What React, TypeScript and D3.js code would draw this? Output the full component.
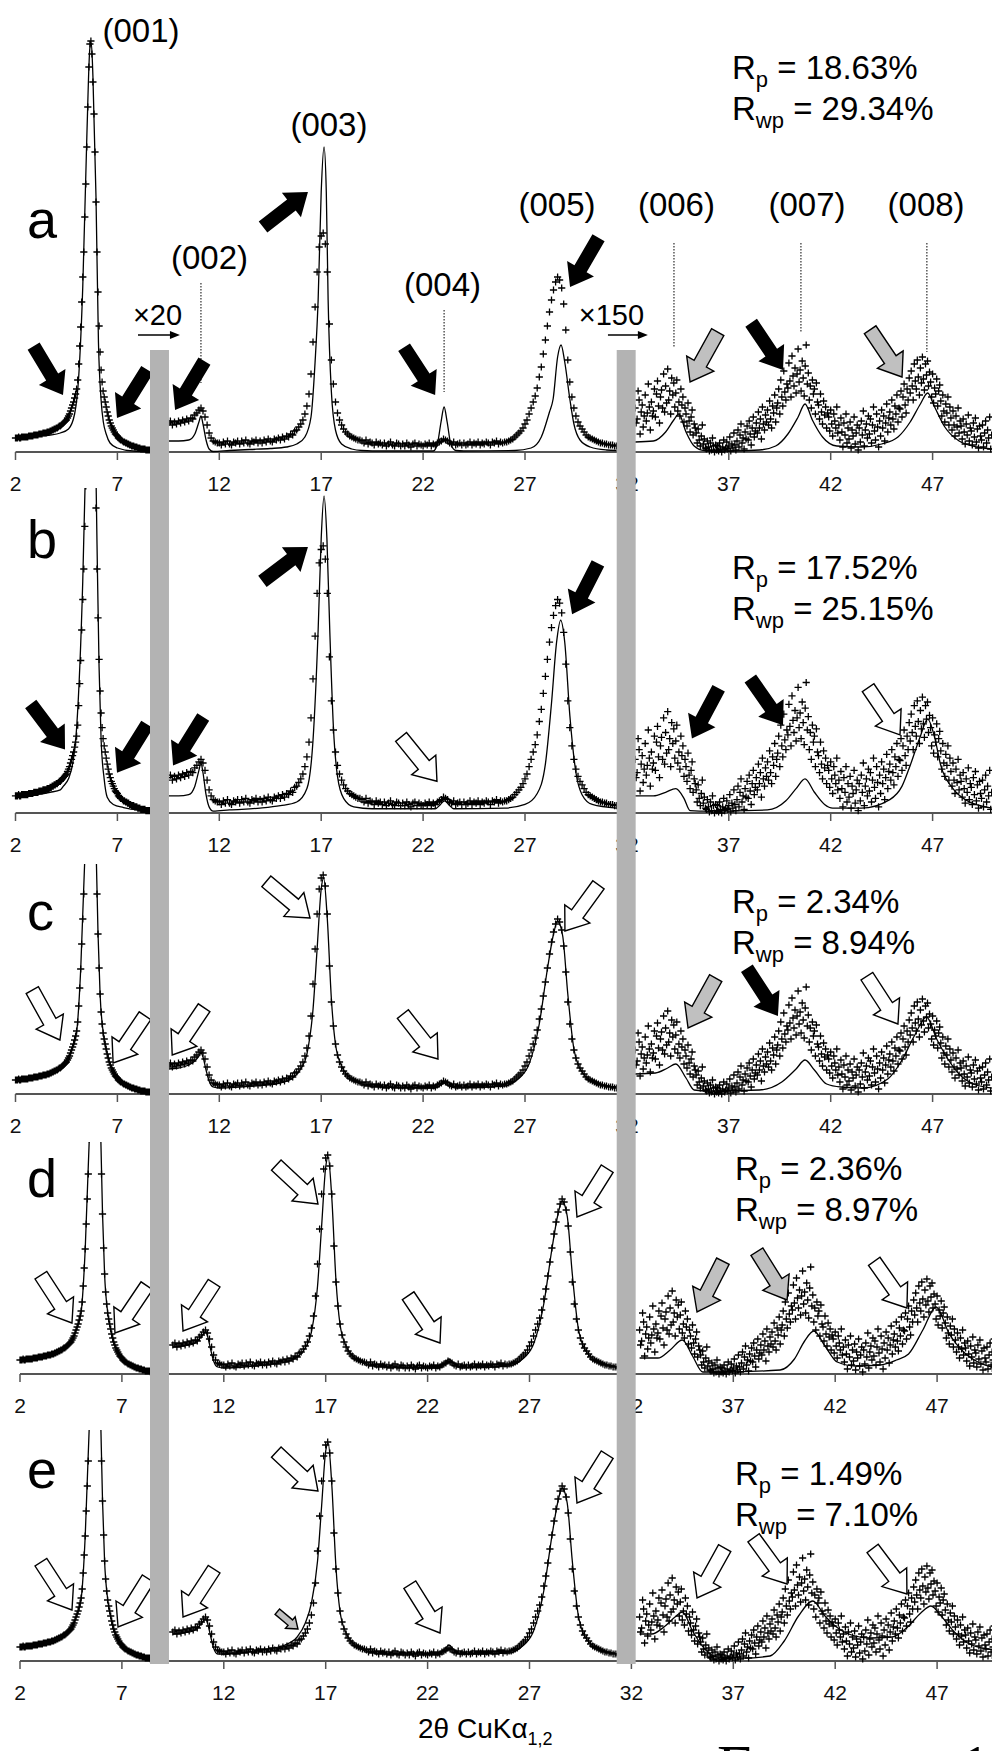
import React from "react";
import * as d3 from "d3";

const W = 992;
const H = 1751;
const PX_PER_DEG = 20.38;
const thetaMin = 2;
const thetaMax = 49.9;
const FONT = "'Liberation Sans', Arial, Helvetica, sans-serif";

const tickValues = [2, 7, 12, 17, 22, 27, 32, 37, 42, 47];

// observed pattern (same measurement in every panel), display counts
const obsLowStart = 2.0;
const obsLowStep = 0.05;
const obsLow = [
  14, 14, 14, 15, 14, 14, 15, 15, 15, 15,
  15, 15, 15, 16, 16, 16, 16, 16, 17, 17,
  17, 17, 17, 18, 18, 18, 18, 19, 19, 19,
  19, 20, 20, 20, 21, 21, 22, 22, 23, 23,
  24, 24, 25, 26, 26, 27, 28, 29, 30, 31,
  32, 34, 36, 38, 41, 44, 47, 50, 54, 58,
  63, 72, 88, 106, 125, 150, 175, 200, 235, 268,
  305, 345, 385, 408, 411, 398, 370, 338, 300, 250,
  200, 160, 126, 100, 82, 70, 61, 55, 50, 45,
  40, 36, 32, 29, 26, 24, 22, 20, 18, 17,
  16, 14, 13, 12, 12, 11, 10, 10, 9, 9,
  8, 8, 7, 7, 6, 6, 6, 5, 5, 5,
  4, 4, 4, 3, 3, 3, 3, 3, 2, 2,
  2, 2, 2,
];

const obsMidStart = 9.5;
const obsMidStep = 0.1;
const obsMid = [
  29, 31, 27, 30, 28,
  31, 29, 32, 30, 33, 31, 34, 33, 37, 39,
  42, 44, 41, 35, 27, 19, 14, 11, 10, 9,
  9, 7, 10, 8, 11, 8, 7, 10, 9, 11,
  8, 11, 9, 12, 9, 8, 11, 10, 12, 9,
  11, 9, 12, 10, 13, 11, 10, 13, 12, 14,
  12, 15, 13, 16, 15, 18, 17, 21, 22, 25,
  28, 32, 38, 46, 58, 78, 110, 145, 180, 205,
  216, 219, 208, 180, 128, 92, 68, 50, 39, 32,
  27, 23, 20, 18, 16, 15, 14, 13, 12, 12,
  11, 9, 12, 8, 10, 9, 7, 10, 8, 9,
  7, 9, 6, 8, 10, 7, 6, 9, 8, 6,
  8, 6, 9, 7, 5, 8, 9, 6, 8, 7,
  6, 8, 7, 9, 6, 8, 7, 9, 10, 11,
  13, 12, 11, 9, 8, 10, 7, 8, 9, 7,
  9, 7, 8, 10, 7, 9, 8, 10, 7, 9,
  8, 10, 9, 7, 10, 9, 11, 8, 10, 9,
  10, 10, 11, 12, 13, 15, 17, 19, 21, 24,
  28, 32, 38, 44, 50, 56, 64, 75, 85, 98,
  112, 126, 140, 152, 162, 170, 175, 172, 164, 148,
  122, 92, 70, 55, 44, 36, 30, 26, 23, 20,
  17, 15, 14, 13, 12, 11, 10, 9, 9, 8,
  8, 7, 7, 7, 6, 6,
];

const obsHighStart = 32.4;
const obsHighStep = 0.05;
const obsHigh = [
  44, 29, 33, 61, 52, 18, 40, 47, 25, 36,
  57, 31, 39, 68, 45, 22, 50, 36, 41, 63,
  35, 58, 71, 46, 29, 55, 62, 44, 78, 40,
  66, 49, 83, 52, 61, 38, 74, 57, 69, 45,
  59, 72, 41, 50, 36, 63, 47, 55, 30, 44,
  38, 26, 49, 31, 20, 35, 42, 17, 28, 24,
  19, 9, 23, 12, 6, 16, 27, 8, 13, 4,
  3, 11, 5, 1, 9, 2, 14, 6, 0, 7,
  2, 6, 1, 9, 3, 0, 5, 12, 2, 4,
  10, 3, 6, 15, 1, 8, 4, 19, 7, 2,
  11, 22, 5, 17, 28, 9, 14, 3, 20, 13,
  26, 12, 31, 18, 7, 24, 35, 15, 21, 29,
  19, 40, 24, 33, 13, 45, 28, 22, 37, 30,
  42, 27, 51, 33, 24, 46, 39, 57, 30, 44,
  49, 63, 38, 72, 55, 46, 81, 60, 52, 68,
  64, 89, 71, 55, 96, 76, 66, 84, 59, 78,
  103, 70, 82, 61, 91, 74, 56, 86, 107, 68,
  79, 52, 66, 44, 72, 58, 63, 38, 69, 50,
  47, 33, 58, 40, 28, 51, 37, 45, 24, 39,
  35, 21, 42, 28, 16, 38, 31, 24, 45, 19,
  27, 12, 34, 20, 5, 29, 17, 38, 9, 24,
  13, 30, 4, 22, 16, 35, 8, 19, 27, 2,
  24, 10, 31, 17, 41, 6, 22, 28, 14, 36,
  18, 33, 9, 27, 45, 21, 12, 38, 25, 5,
  31, 16, 42, 24, 36, 11, 29, 48, 20, 34,
  40, 27, 52, 33, 23, 46, 38, 57, 30, 44,
  43, 61, 35, 55, 68, 47, 39, 63, 52, 74,
  59, 81, 66, 52, 88, 71, 63, 92, 75, 57,
  84, 69, 95, 73, 62, 88, 77, 91, 66, 80,
  70, 55, 78, 49, 64, 58, 73, 46, 61, 67,
  51, 36, 57, 41, 30, 48, 39, 55, 27, 45,
  34, 22, 41, 27, 16, 36, 25, 44, 19, 31,
  26, 13, 33, 20, 8, 28, 17, 37, 11, 24,
  21, 7, 29, 15, 34, 10, 23, 4, 26, 16,
  12, 27, 5, 19, 31, 9, 22, 14, 35, 3,
  17,
];

// calculated profiles [2theta, counts]
const calcA = [
  [2, 14], [3, 16], [3.7, 17], [4.2, 19], [4.6, 23], [4.9, 38], [5.1, 75], [5.3, 165], [5.5, 315],
  [5.65, 404], [5.72, 409], [5.8, 375], [5.95, 255], [6.07, 110], [6.2, 52], [6.31, 30], [6.45, 18],
  [6.64, 9], [7.0, 4], [7.77, 1], [8.7, 0.5],
  [9.5, 11], [10.0, 11], [10.5, 12], [10.8, 18], [11.0, 30], [11.1, 36], [11.2, 28], [11.35, 12],
  [11.5, 3], [11.7, 0.5], [12.5, 1.5], [13.5, 2.5], [14.5, 3.5], [15.3, 5], [15.8, 8], [16.2, 15],
  [16.5, 35], [16.7, 90], [16.85, 152], [17.0, 260], [17.14, 305], [17.25, 260], [17.34, 152],
  [17.5, 60], [17.7, 22], [18.0, 8], [18.5, 3], [19, 1.5], [20, 1], [22.5, 1], [22.7, 8],
  [22.88, 30], [23.03, 45], [23.18, 30], [23.36, 8], [23.6, 1.5], [24, 1], [26.5, 1.5], [27.3, 4],
  [27.8, 15], [28.2, 40], [28.38, 53], [28.6, 95], [28.77, 107], [28.95, 90], [29.2, 53], [29.4, 28],
  [29.7, 12], [30.2, 5], [31.0, 2], [31.5, 1.5],
  [32.4, 10], [33.3, 11], [33.9, 20], [34.3, 32], [34.55, 38], [34.9, 20], [35.3, 6], [35.8, 1.5],
  [37, 1], [38.5, 2], [39.3, 6], [39.9, 18], [40.4, 35], [40.74, 48], [41.1, 32], [41.6, 15],
  [42.3, 6], [43.5, 5], [44.5, 8], [45.3, 15], [45.9, 30], [46.4, 48], [46.76, 59], [47.1, 45],
  [47.6, 25], [48.3, 11], [49.2, 5], [49.9, 3],
];

const calcB = [
  [2, 14], [3, 15], [3.7, 17], [4.2, 19], [4.35, 22], [4.6, 28], [4.8, 40], [5.0, 70], [5.3, 190],
  [5.5, 330], [5.65, 420], [5.75, 420], [5.9, 330], [6.0, 220], [6.1, 120], [6.2, 60], [6.35, 28],
  [6.5, 13], [6.8, 7], [7.3, 4.5], [8.0, 2.5], [8.7, 2],
  [9.5, 14], [10.0, 14], [10.5, 15], [10.8, 22], [11.0, 35], [11.1, 41], [11.2, 33], [11.35, 15],
  [11.5, 5], [11.7, 1.5], [12.5, 2.5], [14, 4], [15, 6], [15.8, 9], [16.3, 20], [16.6, 60],
  [16.85, 150], [17.0, 225], [17.14, 260], [17.28, 225], [17.42, 150], [17.6, 70], [17.8, 30],
  [18.1, 12], [18.6, 5], [19.5, 3.5], [22.6, 3.5], [22.85, 7], [23.05, 10], [23.25, 7], [23.5, 3.5],
  [26, 4], [27, 7], [27.6, 16], [28.0, 40], [28.3, 90], [28.55, 140], [28.75, 158], [28.95, 140],
  [29.2, 80], [29.5, 33], [29.8, 15], [30.3, 7], [31.5, 4],
  [32.4, 14], [33.3, 14], [33.9, 17], [34.4, 20], [34.8, 12], [35.1, 2], [36, 1.5], [38.9, 2.5],
  [39.8, 10], [40.3, 20], [40.74, 28], [41.2, 17], [41.7, 7], [42.1, 4], [43.5, 4], [44.9, 11],
  [45.5, 22], [45.9, 39], [46.4, 63], [46.76, 77], [47.1, 62], [47.4, 39], [48.0, 20], [48.6, 11],
  [49.9, 4],
];

const calcC = [
  [2, 14], [3, 16.5], [3.7, 19], [4.2, 25], [4.5, 30], [4.8, 46], [5.0, 62], [5.2, 125], [5.4, 235],
  [5.6, 390], [5.7, 410], [5.8, 372], [5.95, 250], [6.05, 160], [6.15, 100], [6.3, 62], [6.5, 40],
  [6.7, 26], [7.0, 16], [7.5, 8], [8.0, 4], [8.7, 2],
  [9.5, 25], [10.0, 26], [10.5, 29], [10.8, 33], [11.0, 38], [11.1, 41], [11.2, 37], [11.35, 24],
  [11.5, 13], [11.7, 7], [12, 6], [13, 7], [14, 8.5], [15, 11], [15.6, 16], [16.0, 25], [16.3, 40],
  [16.6, 85], [16.8, 145], [17.0, 205], [17.12, 216], [17.3, 175], [17.5, 95], [17.7, 50], [18, 28],
  [18.5, 15], [19, 10], [20, 7], [22.6, 6], [22.85, 9], [23.05, 11], [23.3, 8], [23.6, 6], [26, 8],
  [26.6, 14], [27.2, 30], [27.7, 70], [28.1, 125], [28.4, 160], [28.6, 173], [28.85, 158],
  [29.1, 100], [29.4, 45], [29.8, 22], [30.5, 11], [31.5, 7],
  [32.4, 20], [33.4, 21], [34.0, 26], [34.4, 30], [34.9, 16], [35.3, 4], [36, 3], [38.5, 4],
  [39.6, 12], [40.3, 25], [40.74, 34], [41.2, 24], [41.8, 10], [42.5, 7], [43.6, 6], [44.8, 15],
  [45.5, 34], [46.1, 58], [46.7, 77], [47.2, 55], [47.6, 40], [48.3, 20], [49.0, 10], [49.9, 6],
];

const calcD = [
  [2, 14], [3, 16.5], [3.7, 19], [4.2, 25], [4.5, 31], [4.8, 47], [5.0, 62], [5.2, 125], [5.4, 235],
  [5.6, 390], [5.7, 410], [5.8, 372], [5.95, 250], [6.05, 160], [6.15, 100], [6.3, 62], [6.5, 40],
  [6.7, 26], [7.0, 16], [7.5, 8], [8.0, 4], [8.7, 2],
  [9.5, 27], [10.0, 28], [10.5, 30], [10.8, 35], [11.0, 40], [11.1, 42], [11.2, 38], [11.35, 25],
  [11.5, 13], [11.7, 7], [12, 6], [13, 7], [14, 9], [15, 12], [15.6, 17], [16.0, 26], [16.3, 42],
  [16.6, 88], [16.8, 148], [17.0, 207], [17.12, 217], [17.3, 176], [17.5, 95], [17.7, 50], [18, 28],
  [18.5, 15], [19, 10], [20, 7], [22.6, 6], [22.85, 11], [23.05, 15], [23.3, 10], [23.6, 6], [26, 8],
  [26.6, 14], [27.2, 30], [27.7, 70], [28.1, 125], [28.4, 160], [28.6, 173], [28.85, 158],
  [29.1, 100], [29.4, 45], [29.8, 22], [30.5, 11], [31.5, 7],
  [32.4, 16], [33.3, 16], [33.9, 24], [34.5, 34], [35.0, 18], [35.5, 2], [36.5, 2], [39.3, 4],
  [40.0, 15], [40.5, 33], [40.95, 43], [41.5, 28], [42.1, 12], [43.0, 8], [44.2, 9], [45.0, 14],
  [45.6, 20], [46.3, 44], [46.95, 67], [47.6, 40], [48.3, 22], [49.0, 12], [49.9, 6],
];

const calcE = [
  [2, 14], [3, 16.5], [3.7, 19], [4.2, 25], [4.5, 31], [4.8, 47], [5.0, 62], [5.2, 125], [5.4, 235],
  [5.6, 390], [5.7, 410], [5.8, 372], [5.95, 250], [6.05, 160], [6.15, 100], [6.3, 62], [6.5, 40],
  [6.7, 26], [7.0, 16], [7.5, 8], [8.0, 4], [8.7, 2],
  [9.5, 27], [10.0, 28], [10.5, 30], [10.8, 35], [11.0, 40], [11.1, 42], [11.2, 38], [11.35, 25],
  [11.5, 13], [11.7, 7], [12, 7], [13, 8.5], [14, 11.5], [15, 16], [15.6, 24], [16.0, 38],
  [16.3, 58], [16.6, 100], [16.8, 155], [17.0, 210], [17.12, 218], [17.3, 176], [17.5, 95],
  [17.7, 50], [18, 28], [18.5, 15], [19, 10], [20, 7], [22.6, 7], [22.85, 12], [23.05, 16],
  [23.3, 11], [23.6, 7], [26, 8], [26.6, 14], [27.2, 30], [27.7, 70], [28.1, 125], [28.4, 160],
  [28.6, 173], [28.85, 158], [29.1, 100], [29.4, 45], [29.8, 22], [30.5, 11], [31.5, 7],
  [32.4, 27], [33.0, 27], [33.6, 34], [34.2, 45], [34.5, 49], [35.0, 30], [35.6, 12], [36.2, 4],
  [37.5, 3], [38.8, 5], [39.5, 20], [40.2, 45], [40.9, 60], [41.5, 45], [42.0, 35], [42.8, 26],
  [43.7, 23], [44.8, 24], [45.5, 33], [46.2, 48], [46.7, 55], [47.2, 45], [47.8, 30], [48.5, 18],
  [49.2, 13], [49.9, 11],
];

// measured ranges between the scale breaks
const segments = [[2, 8.7], [9.5, 31.5], [32.4, 49.9]];
const breakBars = [[8.6, 9.53], [31.5, 32.43]];

// arrows: tip at [2theta, counts], direction angle in degrees, fill
const arrowsA = [
  [4.33, 57, 59, "k"], [6.98, 34, 122, "k"], [9.83, 42, 121, "k"], [16.35, 260, -38, "k"],
  [22.59, 57, 57, "k"], [29.21, 165, 120, "k"], [35.1, 70, 119, "g"], [39.66, 82, 56, "k"],
  [45.5, 75, 56, "g"],
];
const arrowsB = [
  [4.43, 52, 53, "k"], [6.98, 33, 122, "k"], [9.73, 39, 122, "k"], [16.35, 218, -37, "k"],
  [22.68, 26, 51, "w"], [29.31, 163, 117, "k"], [35.19, 61, 118, "k"], [39.66, 72, 55, "k"],
  [45.4, 64, 56, "w"],
];
const arrowsC = [
  [4.18, 54, 61, "w"], [6.79, 31, 124, "w"], [9.69, 39, 124, "w"], [16.45, 176, 40, "w"],
  [22.73, 35, 52, "w"], [28.96, 163, 126, "w"], [35.0, 66, 119, "g"], [39.41, 78, 57, "k"],
  [45.3, 70, 57, "w"],
];
const arrowsD = [
  [4.55, 51, 57, "w"], [6.66, 41, 124, "w"], [10.0, 43, 123, "w"], [16.62, 170, 43, "w"],
  [22.61, 31, 56, "w"], [29.33, 157, 122, "w"], [35.22, 62, 117, "g"], [39.64, 74, 58, "g"],
  [45.52, 66, 55, "w"],
];
const arrowsE = [
  [4.55, 51, 57, "w"], [6.81, 34, 122, "w"], [10.0, 44, 123, "w"], [16.62, 170, 43, "w"],
  [15.64, 32, 40, "gs"], [22.61, 28, 58, "w"], [29.33, 158, 122, "w"], [35.22, 63, 119, "w"],
  [39.64, 77, 54, "w"], [45.52, 67, 53, "w"],
];

const rpValues = ["18.63%", "17.52%", "2.34%", "2.36%", "1.49%"];
const rwpValues = ["29.34%", "25.15%", "8.94%", "8.97%", "7.10%"];

// reflection labels (panel a)
const hklLabels = ["(001)", "(002)", "(003)", "(004)", "(005)", "(006)", "(007)", "(008)"];
const hklTheta = [8.16, 11.52, 17.38, 22.95, 28.57, 34.43, 40.84, 46.68];
const hklCounts = [410, 183, 316, 156, 236, 236, 236, 236];
const refTheta = [11.1, 23.03, 34.31, 40.54, 46.72];
const refTop = [169, 142, 209, 209, 209];
const refBottom = [69, 60, 104, 119, 100];

const scaleLabels = ["×20", "×150"];
const scaleTheta = [8.97, 31.24];
const scaleArrowFrom = [8.01, 31.07];
const scaleArrowTo = [10.07, 33.03];

const panels = [
  { id: "a", axisY: 452, k: 1, off: 15.5, clipTop: 0, letterDy: -214, rDy: -373, rX: 732, calc: calcA, arrows: arrowsA },
  { id: "b", axisY: 813, k: 1.22, off: 15.5, clipTop: 488, letterDy: -255, rDy: -234, rX: 732, calc: calcB, arrows: arrowsB },
  { id: "c", axisY: 1094, k: 1, off: 15.5, clipTop: 864, letterDy: -164, rDy: -181, rX: 732, calc: calcC, arrows: arrowsC },
  { id: "d", axisY: 1374, k: 1, off: 20, clipTop: 1142, letterDy: -177, rDy: -194, rX: 735, calc: calcD, arrows: arrowsD },
  { id: "e", axisY: 1661, k: 1, off: 20, clipTop: 1430, letterDy: -173, rDy: -176, rX: 735, calc: calcE, arrows: arrowsE },
];

const fills = { k: "#000", w: "#fff", g: "#c0c0c0", gs: "#c0c0c0" };

function arrowShape(L, sw, hw, hl) {
  return `M0,0L${-hl},${hw / 2}L${-hl},${sw / 2}L${-L},${sw / 2}L${-L},${-sw / 2}L${-hl},${-sw / 2}L${-hl},${-hw / 2}Z`;
}

function obsPoints(start, step, values) {
  return values.map((v, i) => [start + i * step, v]);
}

const observed = [
  ...obsPoints(obsLowStart, obsLowStep, obsLow),
  ...obsPoints(obsMidStart, obsMidStep, obsMid),
  ...obsPoints(obsHighStart, obsHighStep, obsHigh),
];

function Panel({ p, idx }) {
  const x = d3
    .scaleLinear()
    .domain([thetaMin, thetaMax])
    .range([p.off, p.off + (thetaMax - thetaMin) * PX_PER_DEG]);
  const y = d3
    .scaleLinear()
    .domain([0, 100])
    .range([p.axisY, p.axisY - 100 * p.k]);

  const line = d3
    .line()
    .x((d) => x(d[0]))
    .y((d) => y(d[1]))
    .curve(d3.curveMonotoneX);

  const s = 3.6;
  const crosses = observed
    .map((d) => {
      const cx = x(d[0]);
      const cy = y(d[1]);
      return `M${(cx - s).toFixed(1)},${cy.toFixed(1)}h${2 * s}M${cx.toFixed(1)},${(cy - s).toFixed(1)}v${2 * s}`;
    })
    .join("");

  const clipId = `clip-${p.id}`;

  return (
    <g>
      <defs>
        <clipPath id={clipId}>
          <rect x={0} y={p.clipTop} width={W} height={p.axisY + 8 - p.clipTop} />
        </clipPath>
      </defs>

      {/* axis */}
      <line x1={x(thetaMin)} x2={W} y1={p.axisY} y2={p.axisY} stroke="#555" strokeWidth={2} />
      {tickValues.map((t) => (
        <g key={t}>
          <line x1={x(t)} x2={x(t)} y1={p.axisY} y2={p.axisY + 8} stroke="#555" strokeWidth={1.5} />
          <text
            x={x(t)}
            y={p.axisY + 39}
            textAnchor="middle"
            fontFamily={FONT}
            fontSize={21}
            fill="#111"
          >
            {t}
          </text>
        </g>
      ))}

      <g clipPath={`url(#${clipId})`}>
        <path d={crosses} stroke="#000" strokeWidth={1.3} fill="none" />
        {segments.map((sg, i) => (
          <path
            key={i}
            d={line(p.calc.filter((d) => d[0] >= sg[0] && d[0] <= sg[1]))}
            fill="none"
            stroke="#000"
            strokeWidth={1.3}
          />
        ))}
      </g>

      {p.arrows.map((a, i) => {
        const small = a[3] === "gs";
        const shape = small ? arrowShape(27, 7, 15, 10) : arrowShape(57, 14, 31, 21);
        return (
          <path
            key={i}
            d={shape}
            transform={`translate(${x(a[0])},${y(a[1])}) rotate(${a[2]})`}
            fill={fills[a[3]]}
            stroke="#000"
            strokeWidth={a[3] === "k" ? 0 : 1.4}
            strokeLinejoin="miter"
          />
        );
      })}

      <text x={27} y={p.axisY + p.letterDy} fontFamily={FONT} fontSize={54} fill="#000">
        {p.id}
      </text>

      <text x={p.rX} y={p.axisY + p.rDy} fontFamily={FONT} fontSize={33} fill="#000">
        R
        <tspan fontSize={22} dy={8}>p</tspan>
        <tspan dy={-8}>{" = " + rpValues[idx]}</tspan>
      </text>
      <text x={p.rX} y={p.axisY + p.rDy + 41} fontFamily={FONT} fontSize={33} fill="#000">
        R
        <tspan fontSize={22} dy={8}>wp</tspan>
        <tspan dy={-8}>{" = " + rwpValues[idx]}</tspan>
      </text>

      {p.id === "a" && (
        <g>
          {hklLabels.map((lab, i) => (
            <text
              key={lab}
              x={x(hklTheta[i])}
              y={y(hklCounts[i])}
              textAnchor="middle"
              fontFamily={FONT}
              fontSize={33}
              fill="#000"
            >
              {lab}
            </text>
          ))}
          {refTheta.map((t, i) => (
            <line
              key={t}
              x1={x(t)}
              x2={x(t)}
              y1={y(refTop[i])}
              y2={y(refBottom[i])}
              stroke="#000"
              strokeWidth={1}
              strokeDasharray="1.5,1.5"
            />
          ))}
          {scaleLabels.map((lab, i) => {
            const yy = y(117);
            const x1 = x(scaleArrowFrom[i]);
            const x2 = x(scaleArrowTo[i]);
            return (
              <g key={lab}>
                <text
                  x={x(scaleTheta[i])}
                  y={y(127)}
                  textAnchor="middle"
                  fontFamily={FONT}
                  fontSize={29}
                  fill="#000"
                >
                  {lab}
                </text>
                <line x1={x1} x2={x2 - 8} y1={yy} y2={yy} stroke="#000" strokeWidth={1.6} />
                <path d={`M${x2},${yy}L${x2 - 10},${yy - 4}L${x2 - 10},${yy + 4}Z`} fill="#000" />
              </g>
            );
          })}
        </g>
      )}
    </g>
  );
}

export default function App() {
  const xa = d3
    .scaleLinear()
    .domain([thetaMin, thetaMax])
    .range([panels[0].off, panels[0].off + (thetaMax - thetaMin) * PX_PER_DEG]);
  const barTop = 350;
  const barBottom = 1664;

  return (
    <div style={{ position: "absolute", left: 0, top: 0, width: W, height: H, background: "#fff" }}>
      <svg width={W} height={H} viewBox={`0 0 ${W} ${H}`} style={{ display: "block" }}>
        <rect width={W} height={H} fill="#fff" />
        {panels.map((p, i) => (
          <Panel key={p.id} p={p} idx={i} />
        ))}
        {breakBars.map((b, i) => (
          <rect
            key={i}
            x={xa(b[0])}
            y={barTop}
            width={xa(b[1]) - xa(b[0])}
            height={barBottom - barTop}
            fill="#b3b3b3"
          />
        ))}
        <text x={418} y={1738} fontFamily={FONT} fontSize={28} fill="#000">
          2θ CuKα
          <tspan fontSize={18} dy={7}>1,2</tspan>
        </text>
        <text x={717} y={1787} fontFamily="'Liberation Serif', 'Times New Roman', serif" fontSize={62} fill="#000">
          Examens 1 I
        </text>
      </svg>
    </div>
  );
}
